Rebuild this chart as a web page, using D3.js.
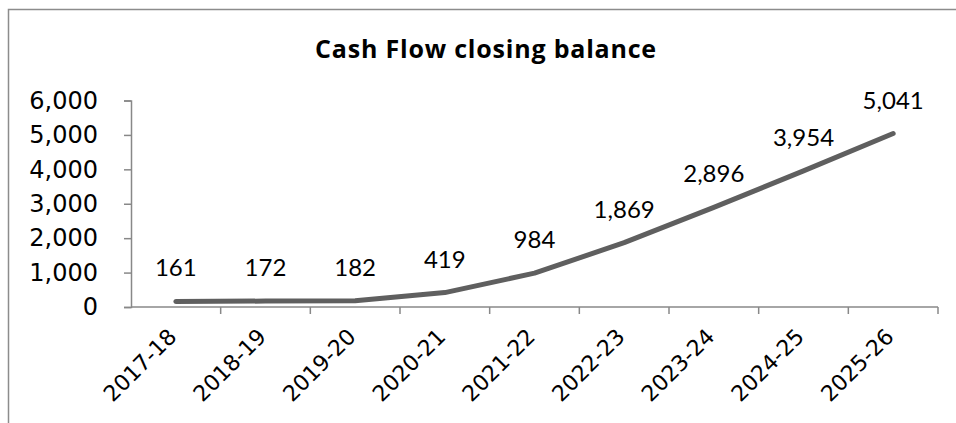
<!DOCTYPE html>
<html>
<head>
<meta charset="utf-8">
<script src="https://cdn.jsdelivr.net/npm/d3@7"></script>
<style>
  body { margin: 0; background: #fff; }
  svg { display: block; }
</style>
</head>
<body>
<svg width="956" height="423"></svg>
<script>
var years = ["2017-18", "2018-19", "2019-20", "2020-21", "2021-22", "2022-23", "2023-24", "2024-25", "2025-26"];
var balance = [161, 172, 182, 419, 984, 1869, 2896, 3954, 5041];
var yTicks = [0, 1000, 2000, 3000, 4000, 5000, 6000];

var svg = d3.select("svg");

// chart frame (runs off the right and bottom edges)
svg.append("path")
    .attr("d", "M8.5,423 L8.5,9.5 L960,9.5")
    .attr("fill", "none")
    .attr("stroke", "#8c8c8c")
    .attr("stroke-width", 1.5);

svg.append("text")
    .attr("x", 486)
    .attr("y", 58)
    .attr("text-anchor", "middle")
    .style("font-family", "'Open Sans', Lato, sans-serif")
    .style("font-weight", "bold")
    .style("font-size", "25px")
    .style("letter-spacing", "0.8px")
    .text("Cash Flow closing balance");

var x = d3.scaleBand().domain(years).range([131, 938]);
var y = d3.scaleLinear().domain([0, 6000]).range([307, 100.5]);

var fmt = d3.format(",");

// y axis
var yAxis = svg.append("g")
    .attr("transform", "translate(131,0)")
    .call(d3.axisLeft(y).tickValues(yTicks).tickSize(7).tickPadding(26).tickFormat(fmt));
yAxis.select(".domain").attr("stroke", "#888").attr("stroke-width", 1.5);
yAxis.selectAll(".tick line").attr("stroke", "#888").attr("stroke-width", 1.5);
yAxis.selectAll("text")
    .attr("fill", "#000")
    .style("font-family", "'DejaVu Sans', Verdana, sans-serif")
    .style("font-size", "24px");

// x axis with ticks on band boundaries
var xAxis = svg.append("g")
    .attr("transform", "translate(0,307)");
xAxis.append("line")
    .attr("x1", 131).attr("x2", 938)
    .attr("stroke", "#888").attr("stroke-width", 1.5);
xAxis.selectAll(".xt")
    .data(years)
    .enter().append("line")
    .attr("class", "xt")
    .attr("x1", function(d) { return x(d) + x.bandwidth(); })
    .attr("x2", function(d) { return x(d) + x.bandwidth(); })
    .attr("y1", 0).attr("y2", 7)
    .attr("stroke", "#888").attr("stroke-width", 1.5);
xAxis.selectAll(".xl")
    .data(years)
    .enter().append("text")
    .attr("class", "xl")
    .attr("text-anchor", "end")
    .attr("transform", function(d) {
        return "translate(" + (x(d) + x.bandwidth() / 2 + 2) + ",31) rotate(-45)";
    })
    .style("font-family", "'DejaVu Sans', Verdana, sans-serif")
    .style("font-size", "22px")
    .text(function(d) { return d; });

// line
var pts = years.map(function(d, i) { return {year: d, value: balance[i]}; });
var line = d3.line()
    .x(function(d) { return x(d.year) + x.bandwidth() / 2; })
    .y(function(d) { return y(d.value); });

svg.append("path")
    .datum(pts)
    .attr("d", line)
    .attr("fill", "none")
    .attr("stroke", "#5f5f5f")
    .attr("stroke-width", 5)
    .attr("stroke-linecap", "round")
    .attr("stroke-linejoin", "round");

// data labels
svg.selectAll(".lbl")
    .data(pts)
    .enter().append("text")
    .attr("class", "lbl")
    .attr("x", function(d) { return x(d.year) + x.bandwidth() / 2; })
    .attr("y", function(d) { return y(d.value) - 25; })
    .attr("text-anchor", "middle")
    .style("font-family", "Lato, 'Open Sans', sans-serif")
    .style("font-size", "24px")
    .text(function(d) { return fmt(d.value); });
</script>
</body>
</html>
